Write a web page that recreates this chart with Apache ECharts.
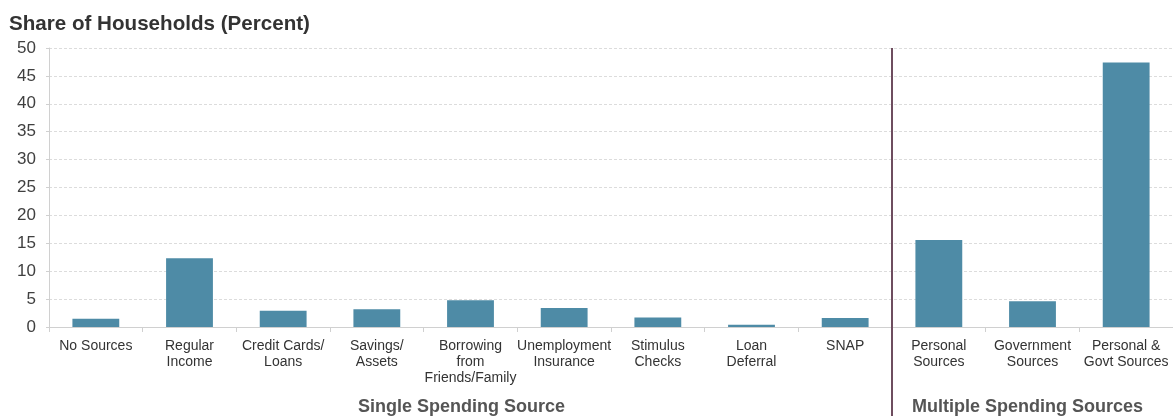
<!DOCTYPE html>
<html>
<head>
<meta charset="utf-8">
<script src="https://cdn.jsdelivr.net/npm/echarts@6/dist/echarts.min.js"></script>
<style>
  html, body { margin: 0; padding: 0; background: #fff; }
  #chart { width: 1173px; height: 416px; }
</style>
</head>
<body>
<div id="chart"></div>
<script>
// Spending sources used by households
const categories = [
  'No Sources', 'Regular\nIncome', 'Credit Cards/\nLoans', 'Savings/\nAssets',
  'Borrowing\nfrom\nFriends/Family', 'Unemployment\nInsurance', 'Stimulus\nChecks',
  'Loan\nDeferral', 'SNAP',
  'Personal\nSources', 'Government\nSources', 'Personal &\nGovt Sources'
];
const shares = [1.5, 12.3, 2.9, 3.2, 4.8, 3.4, 1.7, 0.4, 1.6, 15.6, 4.6, 47.4];
const groups = [
  { name: 'Single Spending Source', from: 0, to: 8 },
  { name: 'Multiple Spending Sources', from: 9, to: 11 }
];
const yTicks = { min: 0, max: 50, interval: 5 };

const FONT = '"Liberation Sans", Arial, sans-serif';
const chart = echarts.init(document.getElementById('chart'), null, { renderer: 'canvas' });

chart.setOption({
  animation: false,
  textStyle: { fontFamily: FONT },
  title: {
    text: 'Share of Households (Percent)',
    left: 4, top: 9,
    textStyle: { fontFamily: FONT, fontSize: 20.6, fontWeight: 'bold', color: '#333' }
  },
  grid: { left: 49, right: -3, top: 48, bottom: 89 },
  xAxis: {
    type: 'category',
    data: categories,
    axisLine: { lineStyle: { color: '#d0d0d0', width: 1 } },
    axisTick: { show: true, length: 5, lineStyle: { color: '#d0d0d0' } },
    axisLabel: {
      interval: 0, margin: 11, fontSize: 14, lineHeight: 16,
      color: '#333', fontFamily: FONT
    }
  },
  yAxis: {
    type: 'value',
    min: yTicks.min, max: yTicks.max, interval: yTicks.interval,
    axisLine: { show: true, lineStyle: { color: '#d0d0d0' } },
    axisTick: { show: true, length: 3, lineStyle: { color: '#d0d0d0' } },
    axisLabel: { fontSize: 17, color: '#404040', margin: 13, fontFamily: FONT },
    splitLine: { lineStyle: { color: '#dcdcdc', type: [3, 2] } }
  },
  series: [{
    type: 'bar',
    data: shares,
    barWidth: '50%',
    itemStyle: { color: '#4e8ba6' }
  }]
});

// Group captions and the divider between the two groups
function place() {
  const graphics = [];
  const half = chart.convertToPixel({ xAxisIndex: 0 }, categories[1]) -
               chart.convertToPixel({ xAxisIndex: 0 }, categories[0]);
  groups.forEach(g => {
    const a = chart.convertToPixel({ xAxisIndex: 0 }, categories[g.from]);
    const b = chart.convertToPixel({ xAxisIndex: 0 }, categories[g.to]);
    graphics.push({
      type: 'text',
      x: (a + b) / 2 - (g.from === 0 ? 9 : 5),
      y: 407,
      style: {
        text: g.name, textAlign: 'center', textVerticalAlign: 'middle',
        font: 'bold 18px ' + FONT, fill: '#555'
      }
    });
  });
  const lastSingle = chart.convertToPixel({ xAxisIndex: 0 }, categories[groups[0].to]);
  const xDiv = Math.round(lastSingle + half / 2);
  graphics.push({
    type: 'line',
    shape: { x1: xDiv, y1: 48, x2: xDiv, y2: 416 },
    style: { stroke: '#6e4d5f', lineWidth: 2 },
    z: 10
  });
  chart.setOption({ graphic: graphics });
}
place();
</script>
</body>
</html>
